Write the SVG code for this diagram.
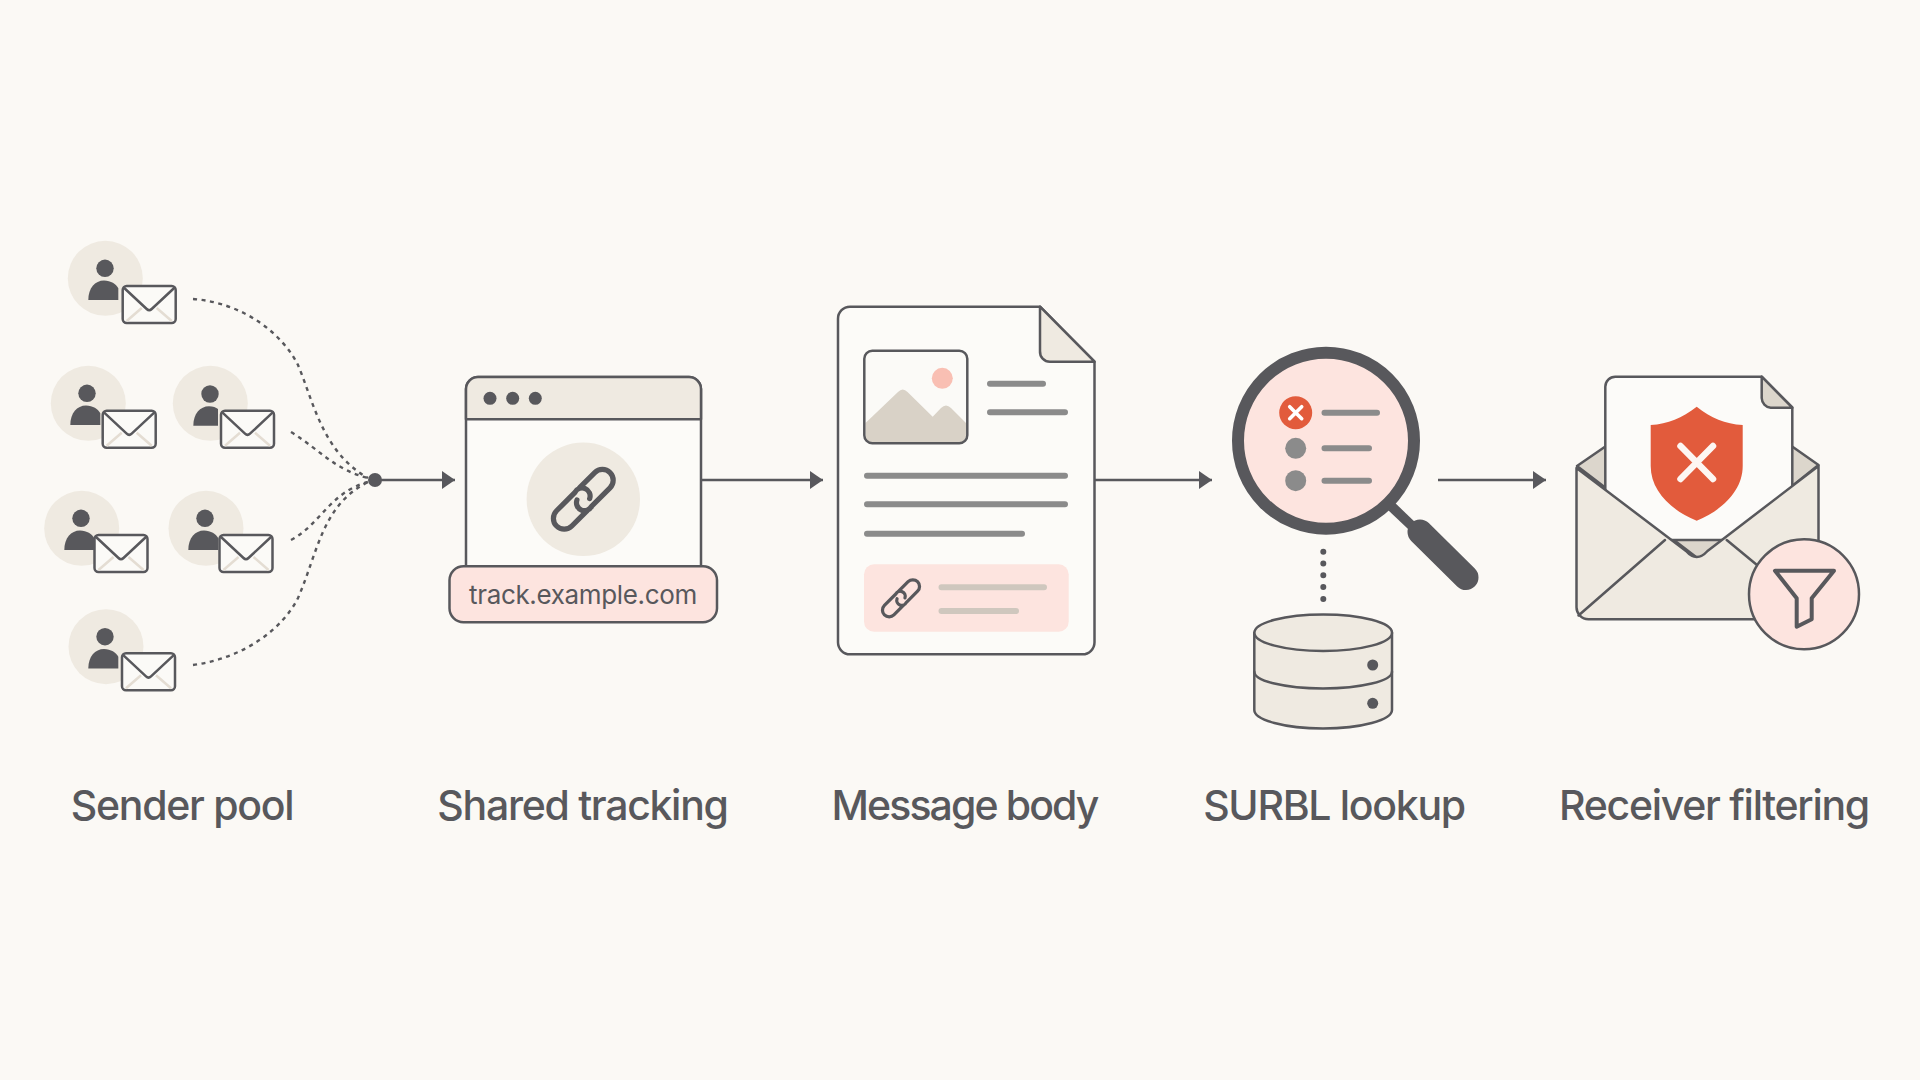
<svg xmlns="http://www.w3.org/2000/svg" width="1920" height="1080" viewBox="0 0 1920 1080">
<style>
.ln{fill:none;stroke:#58585c;stroke-width:2.5;stroke-linecap:round;stroke-linejoin:round}
.box{stroke:#58585c;stroke-width:2.5;stroke-linejoin:round}
.tan{fill:#efeae1}
.dark{fill:#58585c}
.dash{fill:none;stroke:#58585c;stroke-width:2.4;stroke-dasharray:4 4.5}
.flow{fill:none;stroke:#58585c;stroke-width:2.6}
.bar{fill:none;stroke:#8b8b8b;stroke-width:6;stroke-linecap:round}
.pale{fill:none;stroke:#cfc7be;stroke-width:6;stroke-linecap:round}
.label{font-family:Inter,Roboto,sans-serif;font-size:41px;font-weight:500;letter-spacing:-1.3px;fill:#58585c;text-anchor:middle}
.url{font-family:Inter,Roboto,sans-serif;font-size:26px;letter-spacing:-.35px;fill:#58585c;text-anchor:middle}
</style>
<defs>
<marker id="arrow" markerUnits="userSpaceOnUse" markerWidth="14" markerHeight="18" refX="13" refY="9" orient="auto"><path d="M0 0L13 9L0 18Z" fill="#58585c"/></marker>
<g id="person"><circle r="8.7" class="dark"/><path class="dark" d="M-16.7 31.7C-16.7 20-10 12.3-1 12.3C6 12.3 11 16 13.3 20L13.3 31.7Z"/></g>
<g id="person-n"><circle r="8.7" class="dark"/><path class="dark" d="M-16.7 31.7C-16.7 20-10 12.3-1 12.3C3 12.3 6 13.5 8 15L8 31.7Z"/></g>
<g id="mail"><rect x="0" y="0" width="53" height="37" rx="4" fill="#fbfaf7" class="box"/><path d="M4 35L19 22M49 35L34 22" fill="none" stroke="#e4ddd3" stroke-width="2.5"/><path class="ln" d="M1.5 2L24 23Q26.5 25.5 29 23L51.5 2"/></g>
<g id="link"><g id="half"><path fill="none" stroke="#58585c" stroke-width="5.2" stroke-linecap="round" d="M6-10.8L27-10.8A10.8 10.8 0 0 1 27 10.8L1 10.8A8 8 0 0 1-5-4"/></g><use href="#half" transform="rotate(180)"/></g>
</defs>
<rect width="1920" height="1080" fill="#fbf9f5"/>

<g id="connectors">
<path class="dash" d="M193 299C245 303 283 335 298 365C313 400 322 452 368 478"/>
<path class="dash" d="M291 432C320 450 335 470 368 478"/>
<path class="dash" d="M291 540C320 525 330 492 368 482"/>
<path class="dash" d="M193 665C245 658 283 628 298 598C318 552 322 505 368 482"/>
<circle cx="375" cy="480" r="7" class="dark"/>
<path class="flow" d="M375 480H455" marker-end="url(#arrow)"/>
<path class="flow" d="M702 480H823" marker-end="url(#arrow)"/>
<path class="flow" d="M1095 480H1212" marker-end="url(#arrow)"/>
<path class="flow" d="M1438 480H1546" marker-end="url(#arrow)"/>
<path d="M1323.3 551.7V599" fill="none" stroke="#58585c" stroke-width="6" stroke-linecap="round" stroke-dasharray="0 11.8"/>
</g>

<g id="sender-1"><circle cx="105.3" cy="278.3" r="37.5" class="tan"/><use href="#person" x="105" y="268.3"/><use href="#mail" x="122.7" y="286"/></g>
<g id="sender-2"><circle cx="88.3" cy="403.3" r="37.5" class="tan"/><use href="#person" x="87" y="393.3"/><use href="#mail" x="102.7" y="410.7"/></g>
<g id="sender-3"><circle cx="210.3" cy="403.3" r="37.5" class="tan"/><use href="#person-n" x="210" y="394"/><use href="#mail" x="221" y="410.7"/></g>
<g id="sender-4"><circle cx="81.7" cy="528.3" r="37.5" class="tan"/><use href="#person" x="81" y="518.3"/><use href="#mail" x="94.5" y="535"/></g>
<g id="sender-5"><circle cx="206" cy="528.3" r="37.5" class="tan"/><use href="#person" x="205" y="518.3"/><use href="#mail" x="219.5" y="535"/></g>
<g id="sender-6"><circle cx="106" cy="646.7" r="37.5" class="tan"/><use href="#person" x="105" y="636.7"/><use href="#mail" x="122" y="653.3"/></g>

<g id="shared-tracking">
<path d="M466 567V389a12 12 0 0 1 12-12H689a12 12 0 0 1 12 12V567Z" fill="#fcfbf8" class="box"/>
<path d="M466 419.3V389a12 12 0 0 1 12-12H689a12 12 0 0 1 12 12V419.3Z" class="tan box"/>
<circle cx="490" cy="398.3" r="6.5" class="dark"/><circle cx="512.7" cy="398.3" r="6.5" class="dark"/><circle cx="535.3" cy="398.3" r="6.5" class="dark"/>
<circle cx="583.3" cy="499.3" r="56.7" class="tan"/>
<use href="#link" transform="translate(583.3 499.3) rotate(-45)"/>
<rect x="449.5" y="566.3" width="267.5" height="56" rx="14" fill="#fde4df" class="box"/>
<text class="url" x="583" y="604">track.example.com</text>
</g>

<g id="message-body">
<path d="M850 306.7H1040L1094.5 361.7V642.3a12 12 0 0 1-12 12H850a12 12 0 0 1-12-12V318.7a12 12 0 0 1 12-12Z" fill="#fcfbf8" class="box"/>
<path d="M1040 306.7V351a10 10 0 0 0 10 10.7H1094.5Z" class="tan box"/>
<rect x="864.3" y="350.7" width="103" height="92.6" rx="8" fill="#fbfaf7"/>
<path d="M865.5 423L898 392Q902.7 387 907.5 392L932.7 416.7L941 408Q946 403 951 408L966 423V435a7 7 0 0 1-7 7.5H873a7 7 0 0 1-7.5-7.5Z" fill="#d9d2c7"/>
<circle cx="942.3" cy="378.3" r="10.5" fill="#f9bfb3"/>
<rect x="864.3" y="350.7" width="103" height="92.6" rx="8" fill="none" class="box"/>
<path class="bar" d="M990 383.7H1043M990 412.3H1065M867 475.7H1065M867 504.3H1065M867 533.7H1022"/>
<rect x="864" y="564.3" width="204.7" height="67.4" rx="10" fill="#fde4df"/>
<use href="#link" transform="translate(901 598.3) rotate(-45) scale(.62)"/>
<path class="pale" d="M941.5 587.3H1044M941.5 611H1016"/>
</g>

<g id="surbl-lookup">
<path d="M1391.7 506.7L1412 526" fill="none" stroke="#58585c" stroke-width="10"/>
<path d="M1420 532L1466 577.5" fill="none" stroke="#58585c" stroke-width="25" stroke-linecap="round"/>
<circle cx="1326" cy="440.7" r="88" fill="#fde4df" stroke="#58585c" stroke-width="12"/>
<circle cx="1295.7" cy="412.7" r="16.5" fill="#e25b3c"/>
<path d="M1289.7 406.7L1301.7 418.7M1301.7 406.7L1289.7 418.7" fill="none" stroke="#fff" stroke-width="3.6" stroke-linecap="round"/>
<circle cx="1295.7" cy="448.3" r="10.5" fill="#8b8b8b"/><circle cx="1295.7" cy="480.7" r="10.5" fill="#8b8b8b"/>
<path class="bar" d="M1324.5 412.7H1377M1324.5 448.3H1369M1324.5 480.7H1369"/>
<path d="M1254.3 632.7V710C1254.3 720 1285 728.5 1323 728.5S1392 720 1392 710V632.7Z" class="tan box"/>
<path class="ln" d="M1254.3 671.7C1254.3 681 1285 688.5 1323 688.5S1392 681 1392 671.7"/>
<ellipse cx="1323.2" cy="632.7" rx="68.8" ry="18.3" class="tan box"/>
<circle cx="1372.7" cy="665" r="5.5" class="dark"/><circle cx="1372.7" cy="703.3" r="5.5" class="dark"/>
</g>

<g id="receiver-filtering">
<path d="M1577 466L1605 446.7H1792.5L1818.5 465L1700 560Z" fill="#dcd6cc" class="box"/>
<path d="M1615.7 376.7H1761.7L1792.3 407.5V540H1605.3V387a10 10 0 0 1 10.4-10.3Z" fill="#fcfbf9" class="box"/>
<path d="M1761.7 376.7V398a10 10 0 0 0 9 9.7H1792.3Z" fill="#dcd6cc" class="box"/>
<path d="M1576.5 468L1686 551Q1696.7 563 1707.5 551L1818.5 466V607a12 12 0 0 1-12 12.3H1588.5a12 12 0 0 1-12-12.3Z" class="tan box"/>
<path class="ln" d="M1578.5 615.5L1665 540M1726.7 540L1757 565"/>
<path d="M1696.7 406.7C1682 418 1668 424 1650.7 425L1650.7 466C1650.7 490 1670 510 1696.7 520.7C1723 510 1742.7 490 1742.7 466L1742.7 425C1725 424 1711 418 1696.7 406.7Z" fill="#e25b3c"/>
<path d="M1680.5 446L1713 479M1713 446L1680.5 479" fill="none" stroke="#fdf6f2" stroke-width="6.5" stroke-linecap="round"/>
<circle cx="1804" cy="594.3" r="55" fill="#fde4df" class="box"/>
<path d="M1775 570.7H1834L1811.7 598.3V619.3L1796.7 626.7V598.3Z" fill="none" stroke="#58585c" stroke-width="4" stroke-linejoin="round"/>
</g>

<g id="labels">
<text class="label" x="182" y="820">Sender pool</text>
<text class="label" x="582.5" y="820">Shared tracking</text>
<text class="label" x="964.5" y="820" style="letter-spacing:-1.9px">Message body</text>
<text class="label" x="1334" y="820">SURBL lookup</text>
<text class="label" x="1714" y="820">Receiver filtering</text>
</g>
</svg>
